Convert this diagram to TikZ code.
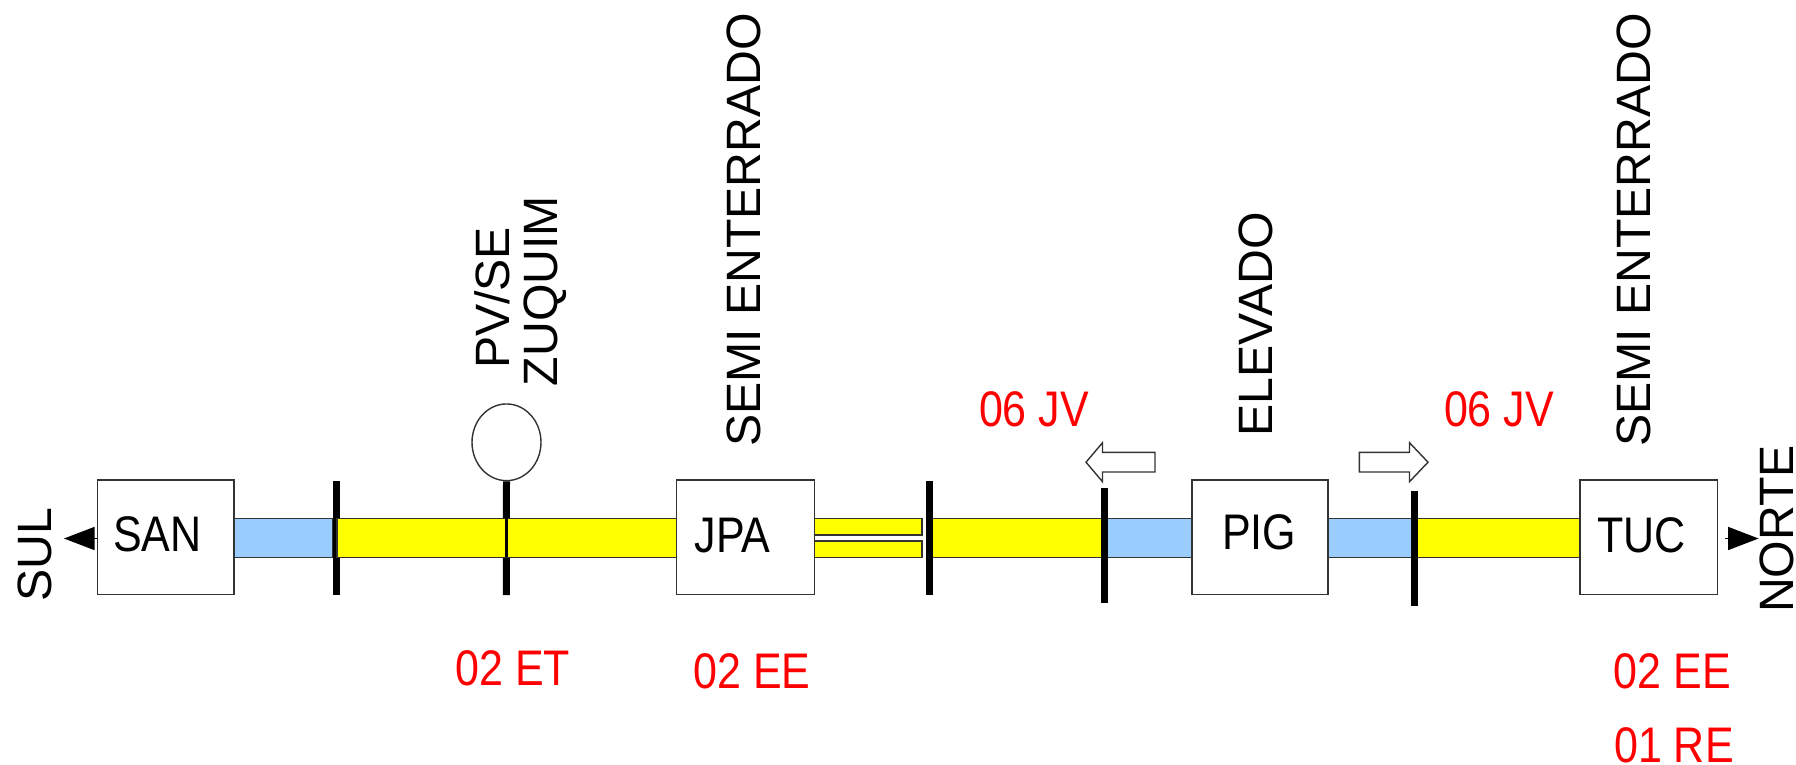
\documentclass[tikz,border=0pt]{standalone}
\usepackage{fontspec}
\setmainfont{Liberation Sans}
\usetikzlibrary{arrows.meta,shapes.geometric}
\definecolor{edgegray}{HTML}{333333}
\definecolor{bandblue}{HTML}{99CCFF}
\definecolor{bandyellow}{HTML}{FFFF00}
\definecolor{notered}{HTML}{FF0000}
\newcommand{\squeezetxt}[1]{\scalebox{.86}[1]{#1}}
\tikzset{
  stationbox/.style={draw=edgegray,line width=1.6pt,fill=white,inner sep=0pt,minimum width=137pt,minimum height=114.6pt},
  blueband/.style={draw=edgegray,line width=1.6pt,fill=bandblue},
  yellowband/.style={draw=edgegray,line width=1.6pt,fill=bandyellow},
  tickline/.style={line width=7pt,black},
  thintick/.style={line width=3pt,black},
  htext/.style={inner sep=0pt,anchor=base,font=\fontsize{50}{50}\selectfont},
  vtext/.style={inner sep=0pt,anchor=base,rotate=90,font=\fontsize{48.2}{48.2}\selectfont},
  redtext/.style={htext,text=notered},
  hollowarrow/.style={draw=edgegray,line width=1.4pt,fill=white,line join=miter},
  endarrow/.style={draw=black,line width=1.4pt,-{Triangle[length=30.5pt,width=23pt,fill=black]}}
}
\begin{document}
\begin{tikzpicture}[x=1pt,y=-1pt]
\useasboundingbox (0,0) rectangle (1796,765);
% end points of ticks and arrows
\coordinate (t1a) at (336,481);      \coordinate (t1b) at (336,595);
\coordinate (t2b) at (506.3,595);
\coordinate (t3a) at (929,481);      \coordinate (t3b) at (929,595);
\coordinate (t4a) at (1104,488.3);   \coordinate (t4b) at (1104,602.7);
\coordinate (t5a) at (1414,491);     \coordinate (t5b) at (1414,605.7);
\coordinate (sultip) at (64,538.5);
\coordinate (nortetip) at (1758.6,538.5);
% circle and the ticks under the bands
\node[ellipse,draw=edgegray,line width=1.4pt,fill=white,inner sep=0pt,minimum width=69pt,minimum height=76.7pt] (zuq) at (506.5,442.3) {};
% bands
\draw[blueband] (233.8,518.3) rectangle (333,557.3);
\draw[tickline] (t1a) -- (t1b);
\draw[tickline] (zuq.south) -- (t2b);
\draw[yellowband] (337,518.3) rectangle (676.5,557.3);
\draw[yellowband] (814.3,518.3) rectangle (922,534.7);
\draw[yellowband] (814.3,541) rectangle (922,557.3);
\draw[yellowband] (932,518.3) rectangle (1104,557.3);
\draw[blueband] (1104,518.3) rectangle (1192,557.3);
\draw[blueband] (1328,518.3) rectangle (1414,557.3);
\draw[yellowband] (1414,518.3) rectangle (1580,557.3);
\draw[thintick] (506.6,518.3) -- (506.6,557.3);
% stations
\node[stationbox,minimum width=136.2pt] (san) at (165.7,537) {};
\node[stationbox,minimum width=137.8pt] (jpa) at (745.4,537) {};
\node[stationbox,minimum width=136pt] (pig) at (1260,537) {};
\node[stationbox,minimum width=137.6pt] (tuc) at (1648.8,537) {};
\node[htext] (sant) at (157.4,551) {\squeezetxt{SAN}};
\node[htext] (jpat) at (732.5,552.5) {\squeezetxt{JPA}};
\node[htext] (pigt) at (1259.2,549.5) {\squeezetxt{PIG}};
\node[htext] (tuct) at (1641.8,552) {\squeezetxt{TUC}};
% ticks over the bands
\draw[tickline] (t3a) -- (t3b);
\draw[tickline] (t4a) -- (t4b);
\draw[tickline] (t5a) -- (t5b);
% end arrows
\draw[endarrow] (san.west |- sultip) -- (sultip);
\draw[endarrow,shorten <=6.4pt] (tuc.east |- nortetip) -- (nortetip);
% hollow arrows
\draw[hollowarrow] (1155,452.3) -- (1102.5,452.3) -- (1102.5,442.7) -- (1086,462.2) -- (1102.5,481.7) -- (1102.5,472) -- (1155,472) -- cycle;
\draw[hollowarrow] (1359.4,452.3) -- (1409.5,452.3) -- (1409.5,442.7) -- (1428,462.2) -- (1409.5,481.7) -- (1409.5,472) -- (1359.4,472) -- cycle;
% vertical labels
\node[vtext] (sul) at (51,555) {SUL};
\node[vtext] (norte) at (1793,529) {NORTE};
\node[vtext] (pvse) at (509,298) {PV/SE};
\node[vtext] (zuqt) at (557.7,291) {ZUQUIM};
\node[vtext] (semi1) at (760.5,230) {SEMI ENTERRADO};
\node[vtext] (elev) at (1272.5,324.5) {ELEVADO};
\node[vtext] (semi2) at (1650.5,230) {SEMI ENTERRADO};
% red labels
\node[redtext] (et) at (512.7,685) {\squeezetxt{02 ET}};
\node[redtext] (ee1) at (752,688) {\squeezetxt{02 EE}};
\node[redtext] (jv1) at (1034,426.5) {\squeezetxt{06 JV}};
\node[redtext] (jv2) at (1499,426.5) {\squeezetxt{06 JV}};
\node[redtext] (ee2) at (1672.5,688) {\squeezetxt{02 EE}};
\node[redtext] (re) at (1674,762.5) {\squeezetxt{01 RE}};
\end{tikzpicture}
\end{document}
